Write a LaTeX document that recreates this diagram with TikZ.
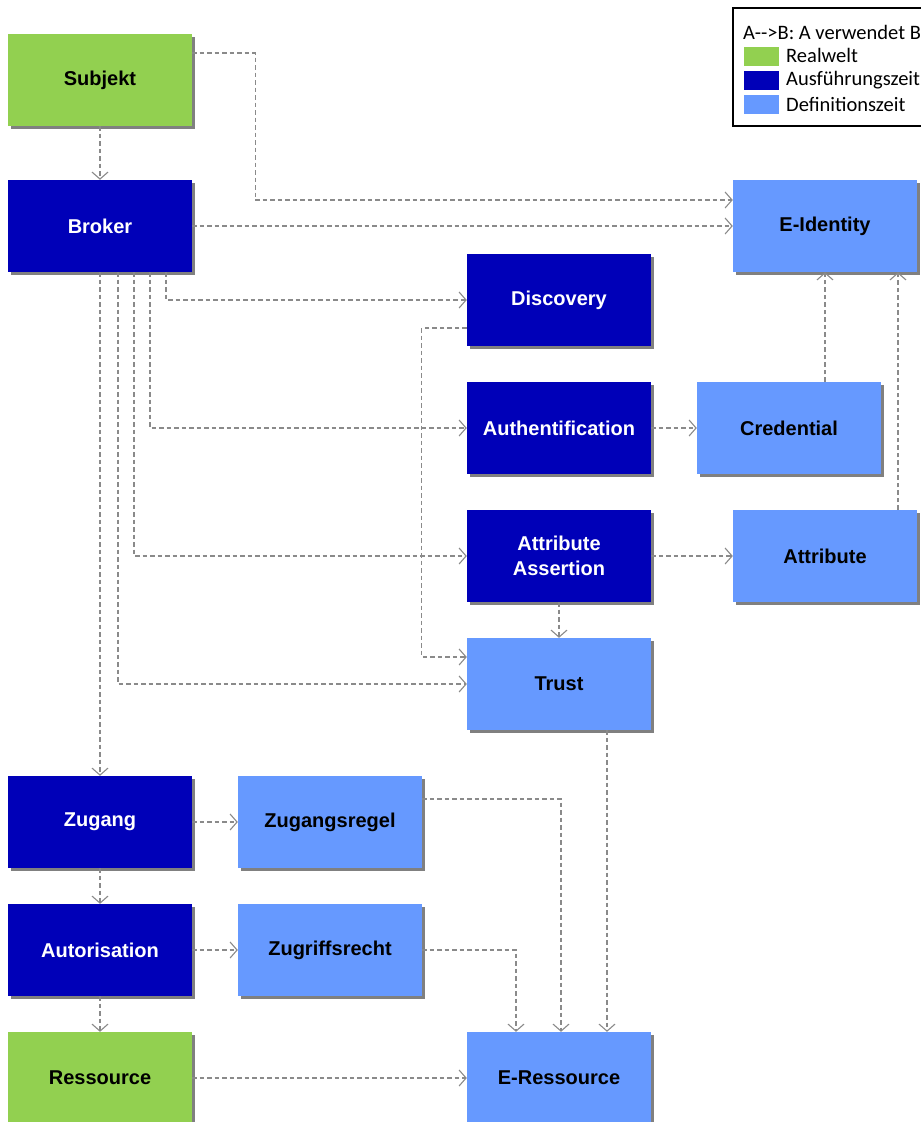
\documentclass[tikz,border=0pt]{standalone}
\usepackage{fontspec}
\setmainfont{Liberation Sans}
\newfontfamily\legendfont{Carlito}
\usetikzlibrary{arrows.meta,shadows,calc}

\definecolor{realgreen}{RGB}{146,208,80}
\definecolor{runblue}{RGB}{0,0,184}
\definecolor{defblue}{RGB}{102,153,255}
\definecolor{conngray}{RGB}{138,138,138}

\tikzset{
  box/.style={rectangle, minimum width=184pt, minimum height=92pt, inner sep=0pt,
    align=center, font=\bfseries\fontsize{20}{25}\selectfont,
    drop shadow={shadow xshift=2.5pt, shadow yshift=-2.5pt, fill=black!50, opacity=1}},
  real/.style={box, fill=realgreen, text=black},
  run/.style={box, fill=runblue, text=white},
  def/.style={box, fill=defblue, text=black},
  conn/.style={draw=conngray, line width=1.1pt, dash pattern=on 4.5pt off 3pt,
    -{Straight Barb[length=7pt, width=16pt, line width=1.1pt]}},
  swatch/.style={rectangle, minimum width=35pt, minimum height=19pt, inner sep=0pt},
  legtext/.style={anchor=west, inner sep=0pt, font=\legendfont\fontsize{20.5}{24}\selectfont}
}

\begin{document}
\begin{tikzpicture}[x=1pt, y=-1pt]
  \useasboundingbox (0,0) rectangle (921,1122);
  \clip (0,0) rectangle (921,1122);

  % nodes
  \node[real] (subj)   at (100,80)   {Subjekt};
  \node[run]  (broker) at (100,226)  {Broker};
  \node[def]  (eid)    at (825,226)  {E-Identity};
  \node[run]  (disc)   at (559,300)  {Discovery};
  \node[run]  (auth)   at (559,428)  {Authentification};
  \node[def]  (cred)   at (789,428)  {Credential};
  \node[run]  (aa)     at (559,556)  {Attribute\\Assertion};
  \node[def]  (attr)   at (825,556)  {Attribute};
  \node[def]  (trust)  at (559,684)  {Trust};
  \node[run]  (zug)    at (100,822)  {Zugang};
  \node[def]  (zr)     at (330,822)  {Zugangsregel};
  \node[run]  (aut)    at (100,950)  {Autorisation};
  \node[def]  (zgr)    at (330,950)  {Zugriffsrecht};
  \node[real] (res)    at (100,1078) {Ressource};
  \node[def]  (eres)   at (559,1078) {E-Ressource};

  % uses-relations
  \draw[conn] (subj) -- (broker);
  \draw[conn] ([yshift=27pt]subj.east) -- ++(63,0) |- ([yshift=26pt]eid.west);
  \draw[conn] (broker) -- (eid);
  \draw[conn] ([xshift=66pt]broker.south) |- (disc.west);
  \draw[conn] ([xshift=50pt]broker.south) |- (auth.west);
  \draw[conn] ([xshift=34pt]broker.south) |- (aa.west);
  \draw[conn] ([xshift=18pt]broker.south) |- (trust.west);
  \draw[conn] (broker) -- (zug);
  \draw[conn] ([yshift=-28pt]disc.west) -- ++(-45,0) |- ([yshift=27pt]trust.west);
  \draw[conn] (auth) -- (cred);
  \draw[conn] (eid.south |- cred.north) -- (eid.south);
  \draw[conn] ([xshift=73pt]attr.north) -- ([xshift=73pt]eid.south);
  \draw[conn] (aa) -- (attr);
  \draw[conn] (aa) -- (trust);
  \draw[conn] ([xshift=48pt]trust.south) -- ([xshift=48pt]eres.north);
  \draw[conn] ([yshift=23pt]zr.east) -| ([xshift=2pt]eres.north);
  \draw[conn] (zgr.east) -| ([xshift=-43pt]eres.north);
  \draw[conn] (zug) -- (zr);
  \draw[conn] (zug) -- (aut);
  \draw[conn] (aut) -- (zgr);
  \draw[conn] (aut) -- (res);
  \draw[conn] (res) -- (eres);

  % legend
  \draw[black, line width=1.5pt] (733,8) rectangle (935,126);
  \node[legtext] (lhead) at (743,32) {A-{}->B: A verwendet B};
  \node[swatch, fill=realgreen] (sw1) at (761.5,56) {};
  \node[swatch, fill=runblue]   (sw2) at (761.5,80) {};
  \node[swatch, fill=defblue]   (sw3) at (761.5,104) {};
  \node[legtext] (l1) at (786,55)  {Realwelt};
  \node[legtext] (l2) at (786,80)  {Ausführungszeit};
  \node[legtext] (l3) at (786,104) {Definitionszeit};
\end{tikzpicture}
\end{document}
